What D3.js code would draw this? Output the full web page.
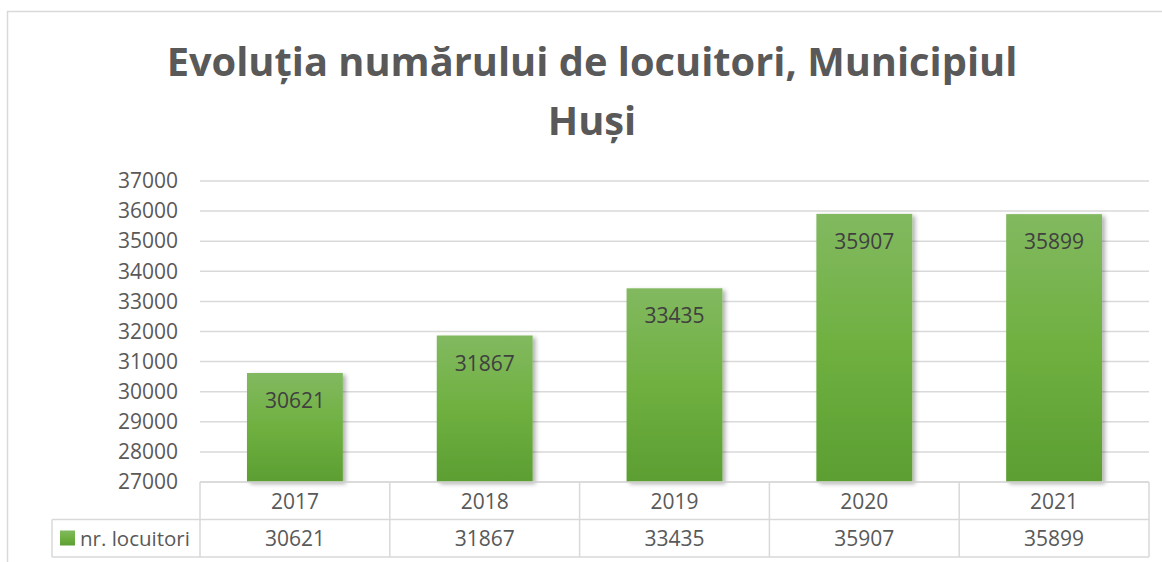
<!DOCTYPE html>
<html>
<head>
<meta charset="utf-8">
<script src="https://d3js.org/d3.v7.min.js"></script>
<style>
  body { margin: 0; background: #fff; }
  text { font-family: "Open Sans", "Noto Sans", sans-serif; }
</style>
</head>
<body>
<div id="chart"></div>
<script>
// data
const years = ["2017", "2018", "2019", "2020", "2021"];
const locuitori = [30621, 31867, 33435, 35907, 35899];
const yTicks = [27000, 28000, 29000, 30000, 31000, 32000, 33000, 34000, 35000, 36000, 37000];
const seriesName = "nr. locuitori";
const titleLines = ["Evoluția numărului de locuitori, Municipiul", "Huși"];

const W = 1162, H = 562;
const plot = {left: 200, right: 1149, top: 181, bottom: 482};
const rowH = 37.5;
const fs = 21;

const svg = d3.select("#chart").append("svg")
    .attr("width", W).attr("height", H);

const defs = svg.append("defs");
const grad = defs.append("linearGradient").attr("id", "barGrad")
    .attr("x1", 0).attr("y1", 0).attr("x2", 0).attr("y2", 1);
grad.append("stop").attr("offset", "0%").attr("stop-color", "#82b960");
grad.append("stop").attr("offset", "50%").attr("stop-color", "#6fb040");
grad.append("stop").attr("offset", "100%").attr("stop-color", "#5c9e32");

const shadow = defs.append("filter").attr("id", "shadow")
    .attr("x", "-10%").attr("y", "-10%").attr("width", "130%").attr("height", "130%");
shadow.append("feDropShadow").attr("dx", 3).attr("dy", 2).attr("stdDeviation", 2)
    .attr("flood-color", "#000").attr("flood-opacity", 0.3);

// outer border
svg.append("rect").attr("x", 7.5).attr("y", 11.5)
    .attr("width", W + 20).attr("height", H + 20)
    .attr("fill", "none").attr("stroke", "#d9d9d9").attr("stroke-width", 1.5);

// title
svg.append("g").selectAll("text").data(titleLines).join("text")
    .attr("x", 592)
    .attr("y", (d, i) => 76 + i * 59)
    .attr("text-anchor", "middle")
    .attr("font-size", 39.8)
    .attr("font-weight", "bold")
    .attr("fill", "#595959")
    .text(d => d);

const x = d3.scaleBand().domain(years).range([plot.left, plot.right]).paddingInner(0).paddingOuter(0);
const y = d3.scaleLinear().domain([27000, 37000]).range([plot.bottom, plot.top]);

// grid
svg.append("g").selectAll("line").data(yTicks).join("line")
    .attr("x1", plot.left).attr("x2", plot.right)
    .attr("y1", d => y(d)).attr("y2", d => y(d))
    .attr("stroke", "#d9d9d9").attr("stroke-width", 1.5);

// y axis labels
const yAxis = svg.append("g")
    .attr("transform", `translate(${plot.left - 22},0)`)
    .call(d3.axisLeft(y).tickValues(yTicks).tickSize(0).tickPadding(0).tickFormat(d3.format("d")));
yAxis.select(".domain").remove();
yAxis.selectAll("text").attr("font-size", fs).attr("fill", "#595959")
    .attr("font-family", "\"Open Sans\", sans-serif");

// bars
const barW = x.bandwidth() * 0.505;
const bars = svg.append("g").selectAll("g").data(years).join("g");
bars.append("rect")
    .attr("x", d => x(d) + (x.bandwidth() - barW) / 2)
    .attr("y", (d, i) => y(locuitori[i]))
    .attr("width", barW)
    .attr("height", (d, i) => y(27000) - y(locuitori[i]))
    .attr("fill", "url(#barGrad)")
    .attr("filter", "url(#shadow)");
bars.append("text")
    .attr("x", d => x(d) + x.bandwidth() / 2)
    .attr("y", (d, i) => y(locuitori[i]) + 35)
    .attr("text-anchor", "middle")
    .attr("font-size", fs)
    .attr("fill", "#404040")
    .text((d, i) => locuitori[i]);

// data table
const tbl = svg.append("g").attr("stroke", "#d9d9d9").attr("stroke-width", 1.5).attr("fill", "none");
const r0 = plot.bottom, r1 = r0 + rowH, r2 = r1 + rowH;
tbl.append("line").attr("x1", plot.left).attr("x2", plot.right).attr("y1", r0).attr("y2", r0);
tbl.append("line").attr("x1", 52).attr("x2", plot.right).attr("y1", r1).attr("y2", r1);
tbl.append("line").attr("x1", 52).attr("x2", plot.right).attr("y1", r2).attr("y2", r2);
tbl.append("line").attr("x1", 52).attr("x2", 52).attr("y1", r1).attr("y2", r2);
tbl.selectAll("line.v").data(years.concat(["end"])).join("line").attr("class", "v")
    .attr("x1", d => d === "end" ? plot.right : x(d))
    .attr("x2", d => d === "end" ? plot.right : x(d))
    .attr("y1", r0).attr("y2", r2);

svg.append("g").selectAll("text").data(years).join("text")
    .attr("x", d => x(d) + x.bandwidth() / 2)
    .attr("y", r0 + 26.5)
    .attr("text-anchor", "middle")
    .attr("font-size", fs).attr("fill", "#595959")
    .text(d => d);
svg.append("g").selectAll("text").data(years).join("text")
    .attr("x", d => x(d) + x.bandwidth() / 2)
    .attr("y", r1 + 26)
    .attr("text-anchor", "middle")
    .attr("font-size", fs).attr("fill", "#595959")
    .text((d, i) => locuitori[i]);

// legend key
svg.append("rect").attr("x", 60).attr("y", r1 + 11).attr("width", 15).attr("height", 15)
    .attr("fill", "url(#barGrad)");
svg.append("text").attr("x", 80).attr("y", r1 + 26)
    .attr("font-size", fs - 0.5).attr("fill", "#595959")
    .text(seriesName);
</script>
</body>
</html>
